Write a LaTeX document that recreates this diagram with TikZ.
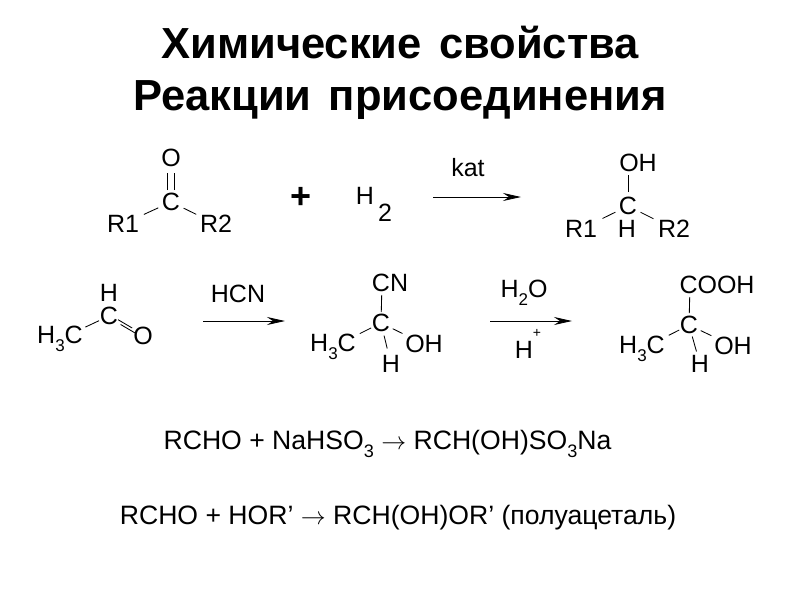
\documentclass[tikz,border=0pt]{standalone}
\usepackage{fontspec}
\setmainfont{Liberation Sans}
\usetikzlibrary{arrows.meta}
\newcommand\lowsub[1]{\raisebox{-.3em}{\scalebox{.68}{#1}}}
\newcommand\fs[1]{\fontsize{#1}{#1}\selectfont}
\tikzset{
  x=1pt,y=-1pt,
  atom/.style={inner sep=0pt,font=\fs{25}},
  eqn/.style={inner sep=0pt,font=\fs{26.6}},
  titleline/.style={inner sep=0pt,font=\fs{43.5}\bfseries},
  bond/.style={draw=black,line width=.85pt},
  react/.style={draw=black,line width=.85pt,-{Stealth[length=18pt,width=8pt,inset=6pt]}},
}
\newcommand\bondto[4]{\draw[bond,shorten <=#3pt,shorten >=#4pt] (#1.center) -- (#2.center);}
\begin{document}
\begin{tikzpicture}
\useasboundingbox (0,0) rectangle (800,600);
\node[titleline] (t1) at (400,43) {Химические\hspace{.12em} свойства};
\node[titleline] (t2) at (400,100) {Реакции\hspace{.12em} присоединения};
% row 1 left
\node[atom] (a1) at (171,202) {C};
\node[atom] (a2) at (171,158) {O};
\node[atom] (a3) at (123,224) {R1};
\node[atom] (a4) at (216,224) {R2};
\draw[bond,shorten <=12pt,shorten >=15pt,transform canvas={xshift=-3.7pt}] (a1.center) -- (a2.center);
\draw[bond,shorten <=12pt,shorten >=15pt,transform canvas={xshift=3.7pt}] (a1.center) -- (a2.center);
\bondto{a1}{a3}{14}{23}
\bondto{a1}{a4}{14}{22}
\node[inner sep=0pt,font=\fs{36}\bfseries] (plus) at (301,198) {+};
\node[atom] (h2a) at (365,196) {H};
\node[atom] (h2b) at (385,213) {2};
\node[atom] (kat) at (468,168) {kat};
\coordinate (r1s) at (433,197);
\coordinate (r1e) at (521,197);
\draw[react] (r1s) -- (r1e);
% row 1 right
\node[atom] (b1) at (628,206) {C};
\node[atom] (b2) at (638,163) {OH};
\coordinate (b2b) at (628,163);
\node[atom] (b3) at (581,229) {R1};
\node[atom] (b4) at (627,229) {H};
\node[atom] (b5) at (674,229) {R2};
\bondto{b1}{b2b}{14}{12}
\bondto{b1}{b3}{14}{24}
\bondto{b1}{b5}{14}{23}
% row 2 acetaldehyde
\node[atom] (c1) at (109,316) {C};
\node[atom] (c2) at (109,293) {H};
\node[atom] (c3) at (143,336) {O};
\node[atom] (c4) at (60,339) {H\lowsub{3}C};
\bondto{c1}{c4}{11}{28}
\draw[bond,shorten <=12pt,shorten >=11pt,transform canvas={xshift=1.3pt,yshift=-2.4pt}] (c1.center) -- (c3.center);
\draw[bond,shorten <=12pt,shorten >=11pt,transform canvas={xshift=-1.3pt,yshift=2.4pt}] (c1.center) -- (c3.center);
\node[atom] (hcn) at (238,294) {HCN};
\coordinate (r2s) at (203,321);
\coordinate (r2e) at (285,321);
\draw[react] (r2s) -- (r2e);
% cyanohydrin
\node[atom] (d1) at (381,323) {C};
\node[atom] (d2) at (390,283) {CN};
\coordinate (d2b) at (382,283);
\node[atom] (d3) at (333,347) {H\lowsub{3}C};
\node[atom] (d4) at (424,344) {OH};
\node[atom] (d5) at (391,364) {H};
\bondto{d1}{d2b}{11}{12}
\bondto{d1}{d3}{11}{30}
\bondto{d1}{d4}{13}{24}
\bondto{d1}{d5}{13}{16}
\node[atom] (h2o) at (524,293) {H\lowsub{2}O};
\coordinate (r3s) at (490,321);
\coordinate (r3e) at (572,321);
\draw[react] (r3s) -- (r3e);
\node[atom] (hp) at (524,350) {H};
\node[inner sep=0pt,font=\fs{14}] (hpp) at (537,333) {+};
% acid
\node[atom] (e1) at (689,325) {C};
\node[atom] (e2) at (717,285) {COOH};
\coordinate (e2b) at (690,285);
\node[atom] (e3) at (642,349) {H\lowsub{3}C};
\node[atom] (e4) at (733,346) {OH};
\node[atom] (e5) at (700,364) {H};
\bondto{e1}{e2b}{12}{12}
\bondto{e1}{e3}{11}{30}
\bondto{e1}{e4}{13}{24}
\bondto{e1}{e5}{12}{13}
% equations
\node[eqn] (q1) at (387.5,444) {RCHO + NaHSO\lowsub{3} $\rightarrow$ RCH(OH)SO\lowsub{3}Na};
\node[eqn] (q2) at (398,518) {RCHO + HOR’ $\rightarrow$ RCH(OH)OR’ (полуацеталь)};
\end{tikzpicture}
\end{document}
